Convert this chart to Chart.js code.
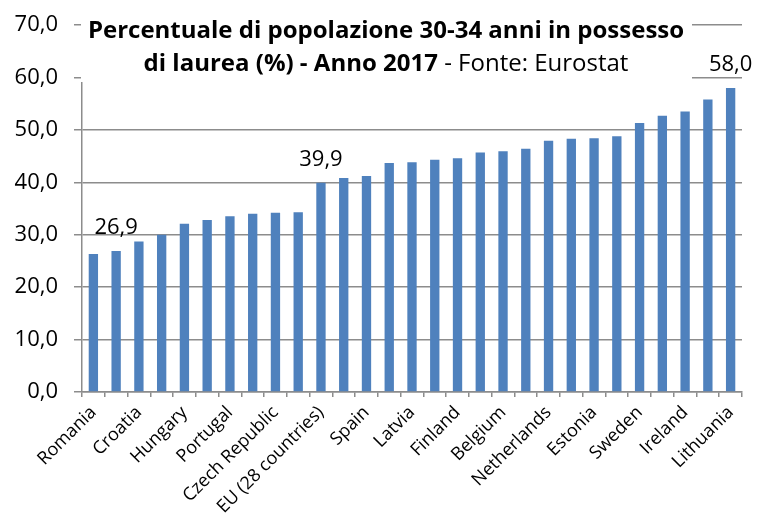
<!DOCTYPE html>
<html>
<head>
<meta charset="utf-8">
<script src="https://cdn.jsdelivr.net/npm/chart.js@4/dist/chart.umd.min.js"></script>
<style>
  html, body { margin: 0; padding: 0; background: #fff; }
  #wrap { width: 758px; height: 522px; }
</style>
</head>
<body>
<div id="wrap"><canvas id="myChart" width="758" height="522"></canvas></div>
<script>
// Eurostat, 30-34 anni con laurea, 2017 (%)
const countries = [
    'Romania', 'Italy', 'Croatia', 'Malta', 'Hungary', 'Bulgaria', 'Portugal',
    'Germany', 'Czech Republic', 'Slovakia', 'EU (28 countries)', 'Austria',
    'Spain', 'Greece', 'Latvia', 'France', 'Finland', 'Poland', 'Belgium',
    'Slovenia', 'Netherlands', 'United Kingdom', 'Estonia', 'Denmark',
    'Sweden', 'Luxembourg', 'Ireland', 'Cyprus', 'Lithuania'
];
const values = [
    26.3, 26.9, 28.7, 30.0, 32.1, 32.8, 33.5,
    34.0, 34.2, 34.3, 39.9, 40.8,
    41.2, 43.7, 43.8, 44.3, 44.6, 45.7, 45.9,
    46.4, 47.9, 48.3, 48.4, 48.8,
    51.3, 52.7, 53.5, 55.8, 58.0
];
const annotated = ['Italy', 'EU (28 countries)', 'Lithuania'];
const yTicks = [0, 10, 20, 30, 40, 50, 60, 70];

const titleBold1 = 'Percentuale di popolazione 30-34 anni in possesso';
const titleBold2 = 'di laurea (%) - Anno 2017';
const titleNormal2 = ' - Fonte: Eurostat';

const fmt = v => v.toFixed(1).replace('.', ',');
const FONT = '"Open Sans", sans-serif';
const gridGrey = '#8c8c8c';

const overlay = {
    id: 'overlay',
    afterDraw(chart) {
        const ctx = chart.ctx;
        const area = chart.chartArea;
        ctx.save();
        // white box behind the title
        ctx.fillStyle = '#fff';
        ctx.fillRect(area.left - 1, 0, 692 - area.left + 1, 82);

        const cx = 386;
        ctx.fillStyle = '#000';
        ctx.textBaseline = 'alphabetic';
        ctx.font = 'bold 24px ' + FONT;
        ctx.textAlign = 'center';
        ctx.fillText(titleBold1, cx, 38);

        ctx.textAlign = 'left';
        const w1 = ctx.measureText(titleBold2).width;
        ctx.font = '24px ' + FONT;
        const w2 = ctx.measureText(titleNormal2).width;
        const x0 = cx - (w1 + w2) / 2;
        ctx.font = 'bold 24px ' + FONT;
        ctx.fillText(titleBold2, x0, 71);
        ctx.font = '24px ' + FONT;
        ctx.fillText(titleNormal2, x0 + w1, 71);

        // value labels
        const meta = chart.getDatasetMeta(0);
        ctx.font = '22px ' + FONT;
        ctx.textAlign = 'center';
        annotated.forEach(name => {
            const i = countries.indexOf(name);
            const bar = meta.data[i];
            ctx.fillText(fmt(values[i]), bar.x, bar.y - 17);
        });
        ctx.restore();
    }
};

const config = {
    type: 'bar',
    data: {
        labels: countries,
        datasets: [{
            data: values,
            backgroundColor: '#4f81bd',
            borderWidth: 0,
            barPercentage: 0.41,
            categoryPercentage: 1
        }]
    },
    options: {
        responsive: false,
        animation: { duration: 0 },
        layout: { padding: { top: 25, right: 16, left: 0, bottom: 0 } },
        plugins: {
            legend: { display: false },
            tooltip: { enabled: false }
        },
        scales: {
            x: {
                grid: {
                    display: true,
                    drawOnChartArea: false,
                    color: gridGrey,
                    lineWidth: 1.5,
                    tickLength: 5,
                    offset: true
                },
                border: { color: gridGrey, width: 1.5 },
                ticks: {
                    autoSkip: false,
                    minRotation: 45,
                    maxRotation: 45,
                    padding: 5,
                    color: '#000',
                    font: { family: FONT, size: 18 },
                    callback: (v, i) => (i % 2 === 0 ? countries[i] : '')
                },
                afterFit: s => { s.height = 130; }
            },
            y: {
                min: 0,
                max: 70,
                afterBuildTicks: s => { s.ticks = yTicks.map(v => ({ value: v })); },
                grid: { color: gridGrey, lineWidth: 1.5, tickLength: 8 },
                border: { color: gridGrey, width: 1.5 },
                ticks: {
                    padding: 16,
                    color: '#000',
                    // small lineHeight so the label overhang doesn't push the plot down
                    font: { family: FONT, size: 22, lineHeight: 0.6 },
                    callback: v => fmt(v)
                },
                afterFit: s => { s.width = 82; }
            }
        }
    },
    plugins: [overlay]
};

const ctx = document.getElementById('myChart').getContext('2d');
window.myBar = new Chart(ctx, config);
</script>
</body>
</html>
